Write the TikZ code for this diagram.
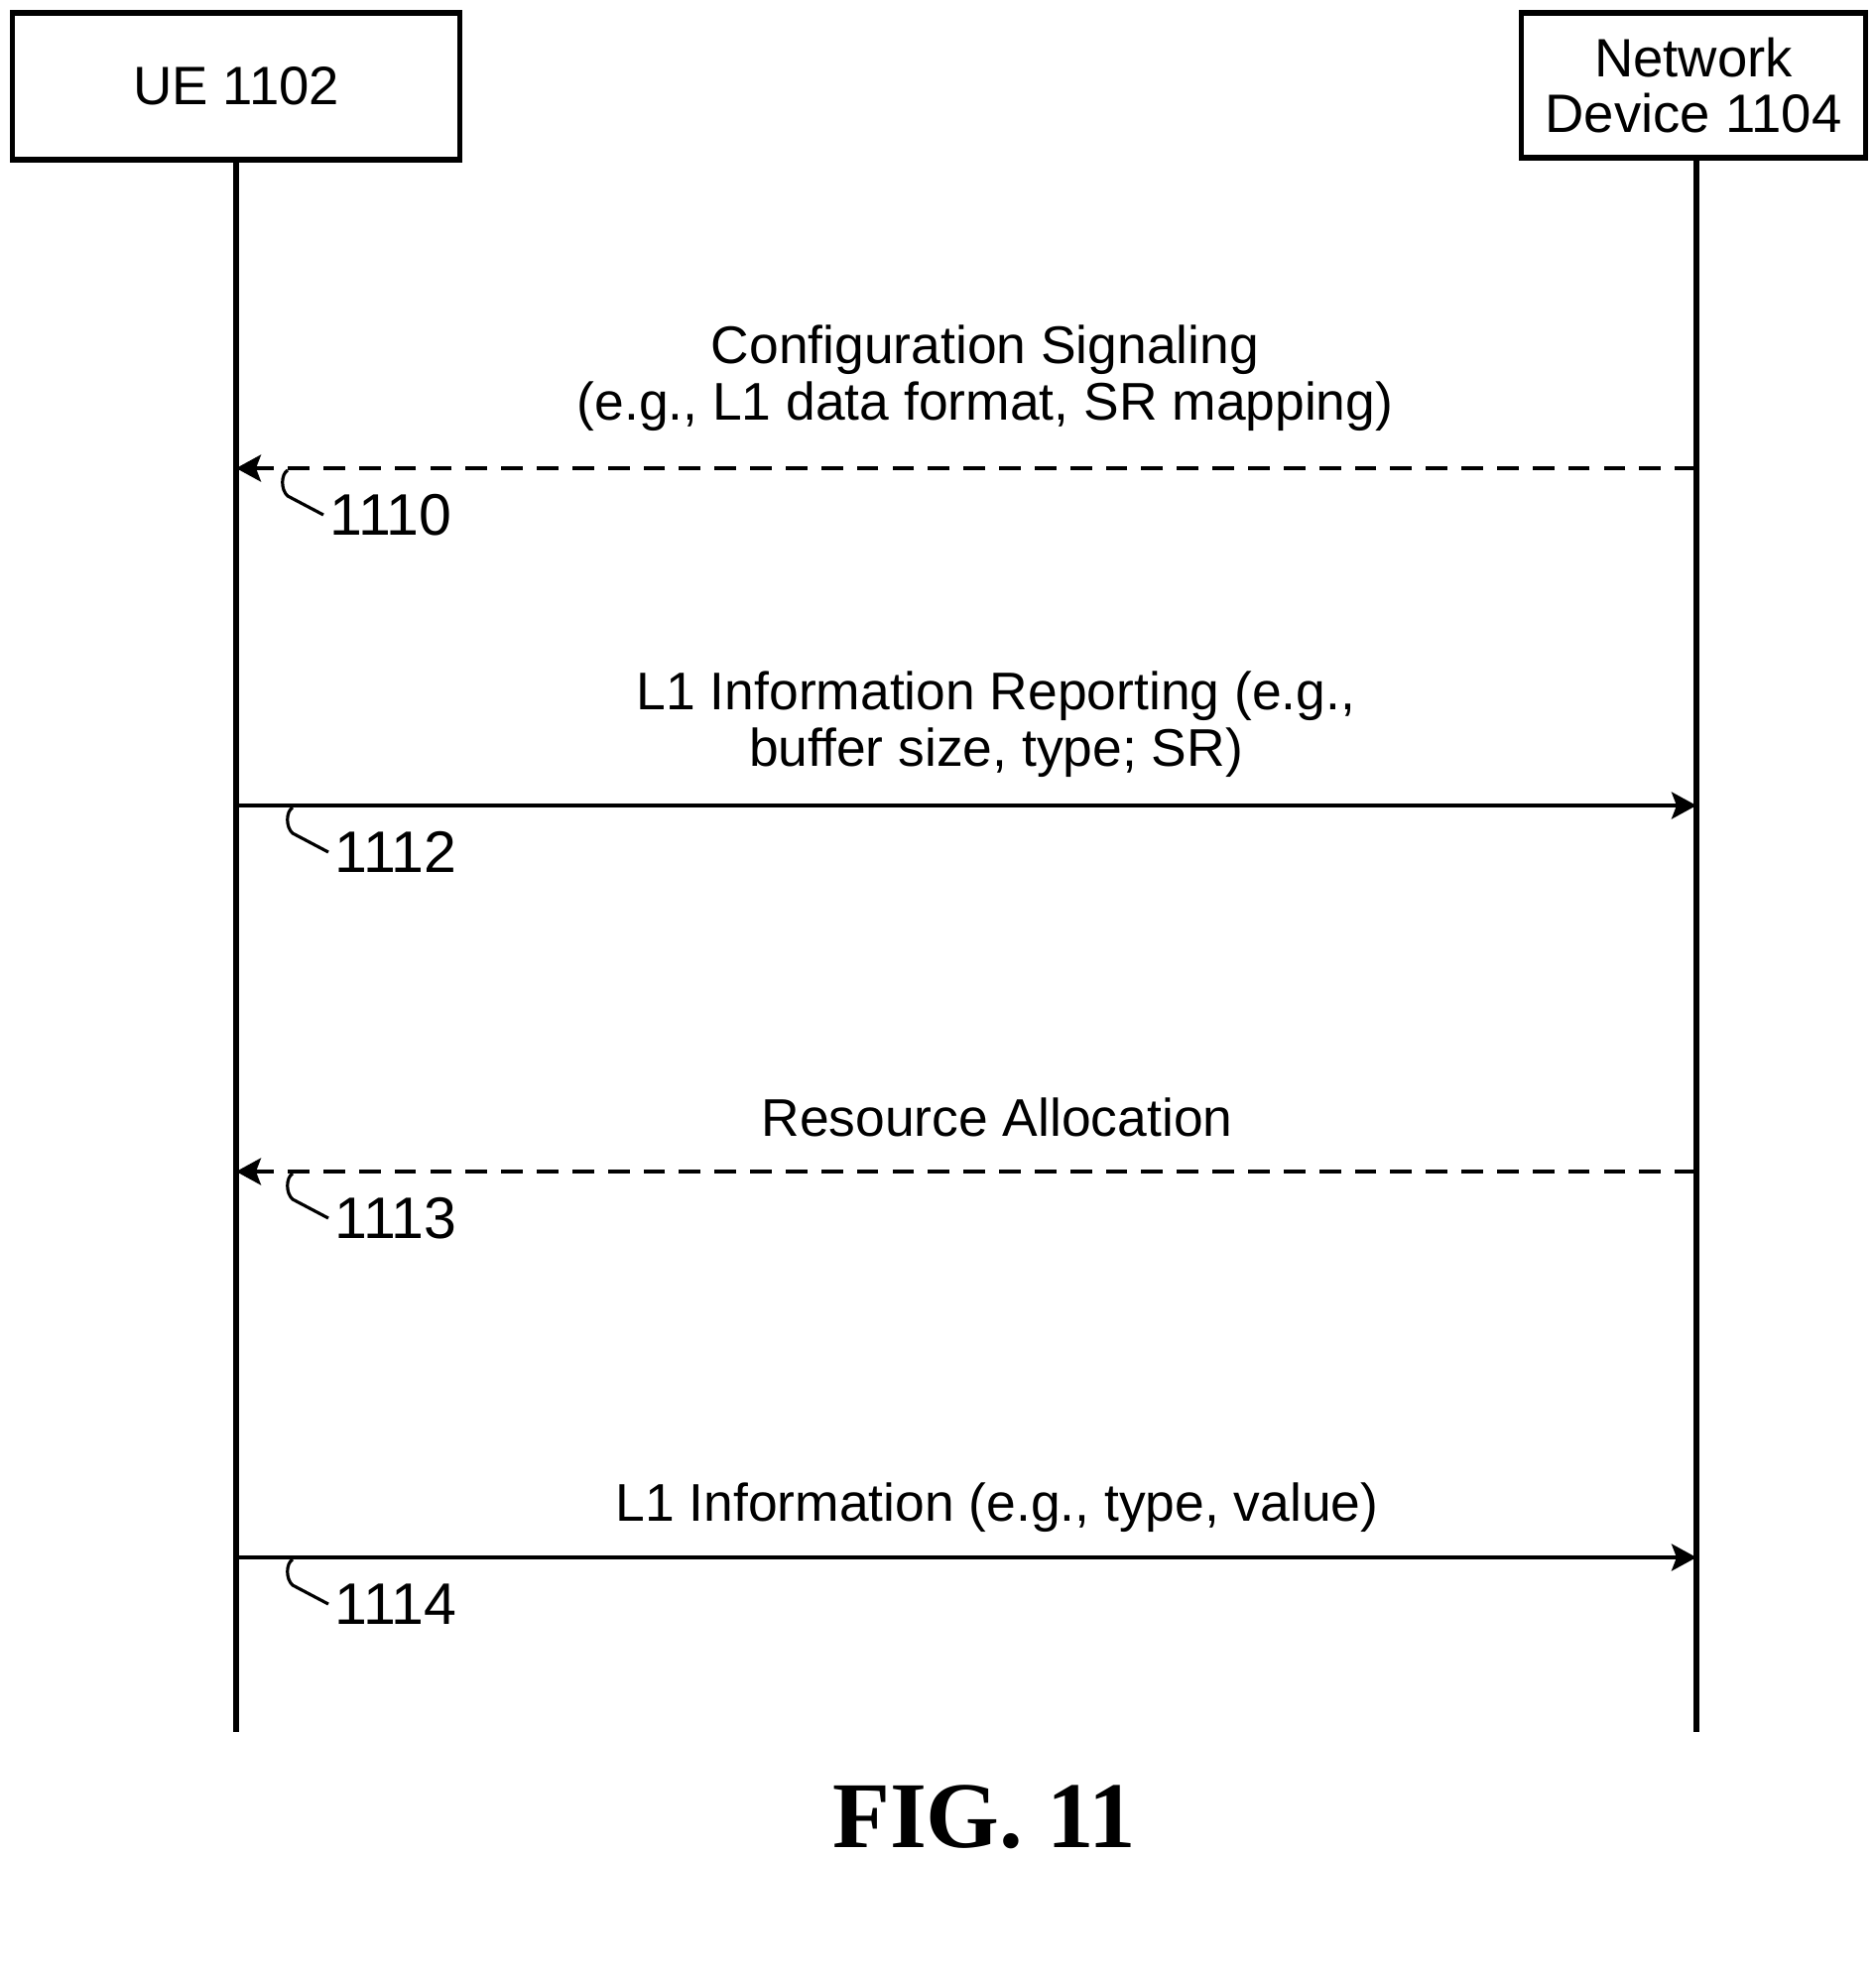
\documentclass[tikz,border=0pt]{standalone}
\usepackage{fontspec}
\setmainfont{Liberation Sans}
\newfontfamily\figfont{Liberation Serif}
\usetikzlibrary{calc, positioning}
\usetikzlibrary{arrows.meta}

\begin{document}
\begin{tikzpicture}[
  entity/.style={draw, line width=1.5pt, align=center, inner sep=0pt,
    font=\fontsize{15.5}{16.2}\selectfont},
  lifeline/.style={line width=1.8pt},
  msg/.style={line width=1.1pt, -{Stealth[length=2.5mm, width=2.7mm, inset=0.5mm]}},
  reply/.style={msg, dash pattern=on 6.2pt off 4pt},
  msglabel/.style={align=center, font=\fontsize{15.2}{16.2}\selectfont},
  hookline/.style={line width=0.9pt},
  refnum/.style={anchor=west, inner sep=0.06cm, font=\fontsize{16.8}{18}\selectfont}
]
\useasboundingbox (0,0) rectangle (18.91,-19.96);

\def\xue{2.38}
\def\xnd{17.10}
\def\ybot{-17.46}

% entities and lifelines
\node[entity, minimum width=4.51cm, minimum height=1.48cm] (ue) at (\xue,-0.87) {UE 1102};
\node[entity, minimum width=3.47cm, minimum height=1.46cm] (nd) at (17.07,-0.86) {Network\\Device 1104};

\coordinate (ueend) at (\xue,\ybot);
\coordinate (ndend) at (\xnd,\ybot);
\draw[lifeline] (ue.south) -- (ueend);
\draw[lifeline] (nd.south -| ndend) -- (ndend);

% message end points
\coordinate (u1) at (\xue,-4.72);
\coordinate (n1) at (\xnd,-4.72);
\coordinate (u2) at (\xue,-8.12);
\coordinate (n2) at (\xnd,-8.12);
\coordinate (u3) at (\xue,-11.81);
\coordinate (n3) at (\xnd,-11.81);
\coordinate (u4) at (\xue,-15.70);
\coordinate (n4) at (\xnd,-15.70);

\draw[reply] (n1) -- (u1);
\draw[msg] (u2) -- (n2);
\draw[reply] (n3) -- (u3);
\draw[msg] (u4) -- (n4);

\node[msglabel] (cfg) at (9.93,-3.81) {Configuration Signaling\\(e.g., L1 data format, SR mapping)};
\node[msglabel] (rep) at (10.04,-7.305) {L1 Information Reporting (e.g.,\\buffer size, type; SR)};
\node[msglabel, anchor=base] (alloc) at (10.05,-11.45) {Resource Allocation};
\node[msglabel, anchor=base] (info) at (10.05,-15.33) {L1 Information (e.g., type, value)};

% reference numerals
\foreach \n/\hx/\hy in {1110/2.90/-4.74, 1112/2.95/-8.14, 1113/2.95/-11.83, 1114/2.95/-15.72} {
  \draw[hookline] (\hx,\hy) .. controls (\hx-0.07,\hy-0.04) and (\hx-0.07,\hy-0.2) .. (\hx,\hy-0.26) -- (\hx+0.36,\hy-0.45) coordinate (h\n);
  \node[refnum] (r\n) at (h\n) {\n};
}

\node[font=\figfont\fontsize{27}{30}\selectfont\bfseries] (fig) at (9.92,-18.32) {FIG. 11};
\end{tikzpicture}
\end{document}
